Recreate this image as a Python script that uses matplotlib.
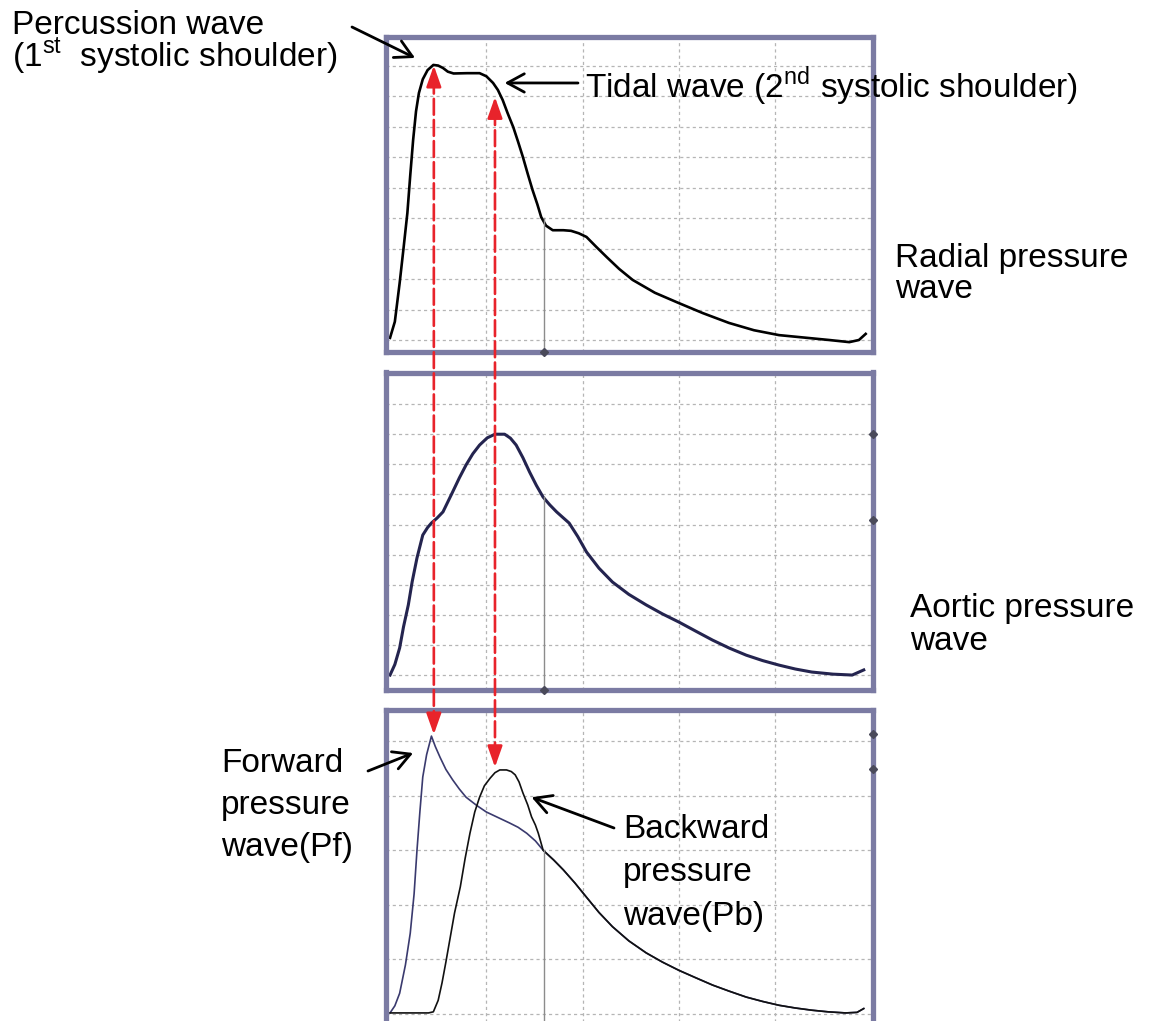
import matplotlib.pyplot as plt
from matplotlib.patches import ConnectionPatch

plt.rcParams['font.family'] = ['Liberation Sans', 'DejaVu Sans']
plt.rcParams['mathtext.fontset'] = 'custom'
plt.rcParams['mathtext.rm'] = 'Liberation Sans'

# radial pressure wave (top)
radial_t = [0.00, 0.05, 0.10, 0.14, 0.18, 0.21, 0.24, 0.27, 0.30, 0.34, 0.39, 0.45,
            0.50, 0.55, 0.60, 0.66, 0.80, 0.93, 1.00, 1.07, 1.12, 1.17, 1.22, 1.28,
            1.33, 1.38, 1.43, 1.48, 1.53, 1.57, 1.62, 1.69, 1.80, 1.88, 1.96, 2.04,
            2.14, 2.25, 2.38, 2.52, 2.75, 3.00, 3.25, 3.52, 3.78, 4.04, 4.30, 4.56,
            4.77, 4.87, 4.94]
radial_p = [0.07, 0.60, 1.87, 3.00, 4.16, 5.40, 6.56, 7.50, 8.10, 8.55, 8.85, 9.02,
            9.00, 8.92, 8.80, 8.74, 8.75, 8.75, 8.65, 8.43, 8.20, 7.87, 7.45, 6.98,
            6.50, 6.00, 5.45, 4.92, 4.45, 4.03, 3.75, 3.60, 3.60, 3.58, 3.50, 3.38,
            3.06, 2.72, 2.33, 1.97, 1.55, 1.21, 0.88, 0.56, 0.32, 0.16, 0.08, 0.00,
            -0.07, 0.00, 0.20]

# aortic pressure wave (middle)
aortic_t = [0.00, 0.05, 0.10, 0.14, 0.19, 0.23, 0.28, 0.34, 0.39, 0.43, 0.49, 0.55,
            0.60, 0.65, 0.72, 0.79, 0.86, 0.93, 1.01, 1.09, 1.19, 1.25, 1.31, 1.38,
            1.45, 1.52, 1.59, 1.66, 1.73, 1.80, 1.86, 1.95, 2.04, 2.17, 2.31, 2.48,
            2.66, 2.83, 3.00, 3.18, 3.35, 3.52, 3.70, 3.87, 4.04, 4.21, 4.38, 4.60,
            4.80, 4.92]
aortic_p = [0.00, 0.35, 0.90, 1.60, 2.33, 3.10, 3.89, 4.65, 4.90, 5.05, 5.22, 5.42,
            5.75, 6.08, 6.55, 6.98, 7.35, 7.64, 7.88, 8.00, 8.00, 7.87, 7.64, 7.22,
            6.74, 6.30, 5.91, 5.65, 5.42, 5.22, 5.05, 4.60, 4.09, 3.55, 3.09, 2.68,
            2.33, 2.03, 1.76, 1.45, 1.16, 0.90, 0.66, 0.48, 0.33, 0.20, 0.10, 0.03,
            0.00, 0.17]

# forward / backward components (bottom), both run into the same diastolic tail
pf_t = [0.00, 0.05, 0.10, 0.16, 0.21, 0.25, 0.28, 0.31, 0.34, 0.38, 0.43, 0.47,
        0.52, 0.58, 0.65, 0.72, 0.79, 0.90, 1.00, 1.12, 1.24, 1.33, 1.42, 1.51]
pf_p = [0.02, 0.15, 0.38, 0.90, 1.48, 2.20, 3.00, 3.70, 4.34, 4.75, 5.09, 4.90,
        4.70, 4.48, 4.29, 4.12, 3.97, 3.82, 3.70, 3.60, 3.50, 3.42, 3.31, 3.17]
pb_t = [0.00, 0.40, 0.45, 0.50, 0.54, 0.58, 0.62, 0.67, 0.73, 0.78, 0.83, 0.88,
        0.93, 0.98, 1.04, 1.09, 1.14, 1.21, 1.26, 1.30, 1.34, 1.38, 1.43, 1.47,
        1.51, 1.54]
pb_p = [0.02, 0.02, 0.04, 0.25, 0.57, 0.95, 1.35, 1.85, 2.33, 2.85, 3.31, 3.70,
        3.97, 4.18, 4.32, 4.42, 4.47, 4.47, 4.44, 4.38, 4.25, 4.05, 3.83, 3.61,
        3.46, 3.31]
tail_t = [1.59, 1.70, 1.80, 1.92, 2.04, 2.17, 2.31, 2.48, 2.66, 2.83, 3.00, 3.18,
          3.35, 3.52, 3.70, 3.87, 4.04, 4.21, 4.38, 4.55, 4.73, 4.85, 4.92]
tail_p = [3.00, 2.82, 2.64, 2.40, 2.14, 1.86, 1.60, 1.34, 1.12, 0.95, 0.80, 0.66,
          0.53, 0.42, 0.31, 0.23, 0.16, 0.11, 0.07, 0.04, 0.02, 0.03, 0.10]

notch_t = 1.6
W, H = 1160, 1021
FRAME = '#7b7ba3'
RED = '#e8232b'
FS = 24

fig = plt.figure(figsize=(W / 100, H / 100), dpi=100)


def fig_xy(x, y):
    return x / W, 1 - y / H


def panel(top, bottom, ylim, nlines):
    left, right = 385.5, 873
    ax = fig.add_axes([left / W, 1 - bottom / H, (right - left) / W, (bottom - top) / H])
    ax.set_xlim(-0.047, 5.016)
    ax.set_ylim(*ylim)
    ax.set_xticks([1, 2, 3, 4])
    ax.set_yticks(range(nlines))
    ax.grid(True, color='#b5b5b5', lw=0.9, ls=(0, (2.5, 2.5)))
    ax.tick_params(length=0, labelbottom=False, labelleft=False)
    for s in ax.spines.values():
        s.set_color(FRAME)
        s.set_linewidth(3.8)
    return ax


ax1 = panel(37.5, 352.5, (-0.41, 9.92), 10)
ax2 = panel(372.5, 689.5, (-0.48, 10.05), 10)
ax3 = panel(709.5, 1031, (-0.311, 5.577), 6)

ax1.plot(radial_t, radial_p, color='black', lw=1.9)
ax2.plot(aortic_t, aortic_p, color='#24244f', lw=2.2)
ax3.plot(pf_t + tail_t, pf_p + tail_p, color='#3a3a6e', lw=1.2)
ax3.plot(pb_t + tail_t, pb_p + tail_p, color='#111111', lw=1.2)

# grey marker at the notch and small diamond markers on the frame
for ax, yv in [(ax1, 4.0), (ax2, 5.91), (ax3, 3.0)]:
    y0 = ax.get_ylim()[0]
    ax.plot([notch_t, notch_t], [yv, y0], color='#8c8c8c', lw=1.0)
for ax in (ax1, ax2):
    ax.plot(notch_t, ax.get_ylim()[0], marker='D', ms=4.5, color='#4a4a5a', clip_on=False, zorder=5)
xr = ax2.get_xlim()[1]
ax2.plot([xr, xr], [8.0, 5.15], ls='none', marker='D', ms=4.5, color='#4a4a5a', clip_on=False, zorder=5)
ax3.plot([xr, xr], [5.13, 4.49], ls='none', marker='D', ms=4.5, color='#4a4a5a', clip_on=False, zorder=5)

# red dashed double arrows linking the peaks
for xv, ytop, ybot in [(0.455, 9.0, 5.12), (1.09, 7.97, 4.52)]:
    con = ConnectionPatch(xyA=(xv, ytop - 0.4), coordsA=ax1.transData,
                          xyB=(xv, ybot + 0.25), coordsB=ax3.transData,
                          color=RED, lw=1.9, ls=(0, (6, 2)), zorder=10)
    fig.add_artist(con)
    head = dict(arrowstyle='-|>,head_length=0.85,head_width=0.3', color=RED,
                lw=1.9, mutation_scale=15, shrinkA=0, shrinkB=0)
    ax1.annotate('', xy=(xv, ytop), xytext=(xv, ytop - 0.6), arrowprops=head, zorder=11)
    ax3.annotate('', xy=(xv, ybot), xytext=(xv, ybot + 0.35), arrowprops=head, zorder=11)

# black pointer arrows
pointer = dict(arrowstyle='->,head_length=0.55,head_width=0.3', color='black',
               lw=2.0, mutation_scale=22, shrinkA=0, shrinkB=0)
ax1.annotate('', xy=(0.26, 9.25), xytext=fig_xy(352, 27), textcoords='figure fraction',
             arrowprops=pointer, annotation_clip=False)
ax1.annotate('', xy=(1.19, 8.43), xytext=fig_xy(578, 83), textcoords='figure fraction',
             arrowprops=pointer, annotation_clip=False)
ax3.annotate('', xy=(0.24, 4.78), xytext=fig_xy(368, 771), textcoords='figure fraction',
             arrowprops=pointer, annotation_clip=False)
ax3.annotate('', xy=(1.47, 3.97), xytext=fig_xy(614, 828), textcoords='figure fraction',
             arrowprops=pointer, annotation_clip=False)

# one text per line, placed on its baseline
labels = [
    (12, 34, 'Percussion wave'),
    (12, 66, r'(1$^{\mathrm{st}}$  systolic shoulder)'),
    (585, 98, r'Tidal wave (2$^{\mathrm{nd}}$ systolic shoulder)'),
    (895, 267, 'Radial pressure'),
    (895, 298, 'wave'),
    (910, 617, 'Aortic pressure'),
    (910, 650, 'wave'),
    (221, 772, 'Forward'),
    (221, 814, 'pressure'),
    (221, 856, 'wave(Pf)'),
    (623, 838, 'Backward'),
    (623, 881, 'pressure'),
    (623, 925, 'wave(Pb)'),
]
for x, y, s in labels:
    fig.text(*fig_xy(x, y), s, fontsize=FS, va='baseline', ha='left')

fig.savefig('out.png', dpi=100)
